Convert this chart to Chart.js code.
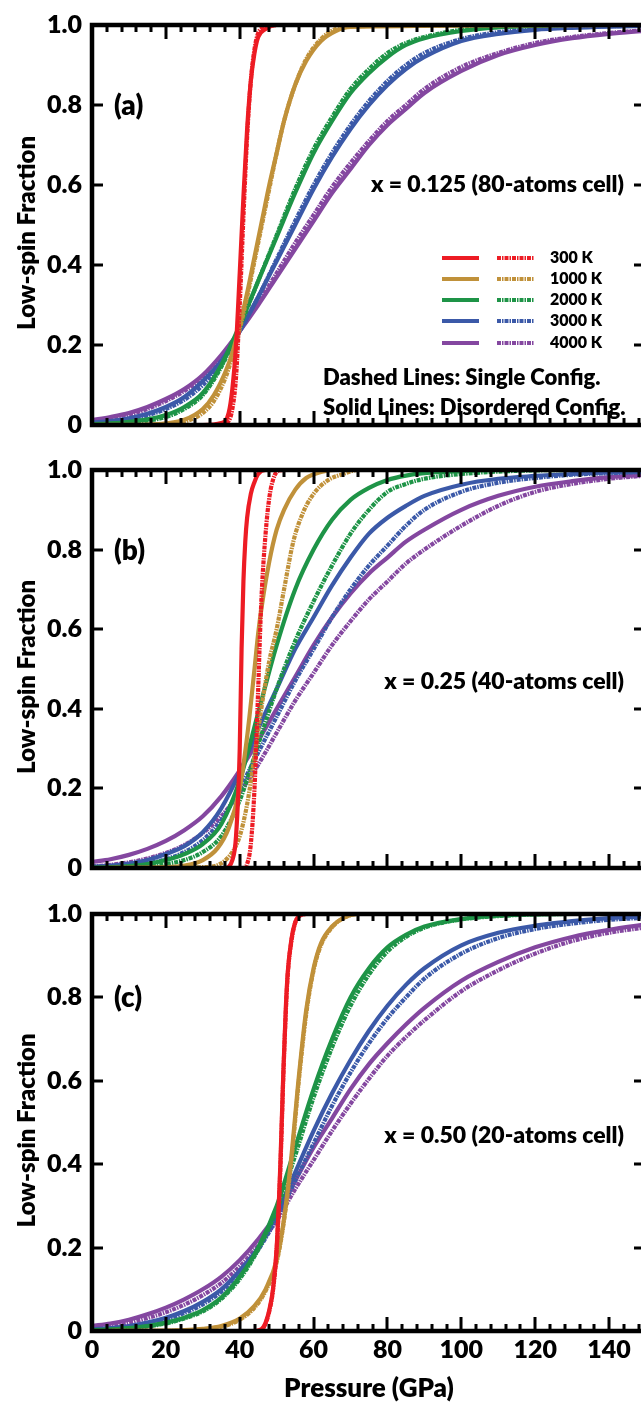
<!DOCTYPE html>
<html><head><meta charset="utf-8">
<script src="https://cdn.jsdelivr.net/npm/chart.js@4.4.1/dist/chart.umd.min.js"></script>
<style>
html,body{margin:0;padding:0;background:#fff;overflow:hidden;width:641px;height:1406px;position:relative;}
.panel{position:absolute;left:0;width:660px;}
canvas{display:block;}
</style></head><body>
<div class="panel" style="top:0px;height:450px"><canvas id="ca" width="660" height="450"></canvas></div>
<div class="panel" style="top:445px;height:448px"><canvas id="cb" width="660" height="448"></canvas></div>
<div class="panel" style="top:889px;height:517px"><canvas id="cc" width="660" height="517"></canvas></div>
<script>
// ---------- DATA ----------
const TEMPS = ['300 K', '1000 K', '2000 K', '3000 K', '4000 K'];
const X_TICKS = [0, 20, 40, 60, 80, 100, 120, 140];
const X_TICK_LABELS = ['0', '20', '40', '60', '80', '100', '120', '140'];
const Y_TICKS = [0, 0.2, 0.4, 0.6, 0.8, 1.0];
const Y_TICK_LABELS = ['0', '0.2', '0.4', '0.6', '0.8', '1.0'];
const PANEL_TAGS = ['(a)', '(b)', '(c)'];
const PANEL_NOTES = ['x = 0.125 (80-atoms cell)', 'x = 0.25 (40-atoms cell)', 'x = 0.50 (20-atoms cell)'];
const NOTE_LINES = ['Dashed Lines: Single Config.', 'Solid Lines: Disordered Config.'];
const X_TITLE = 'Pressure (GPa)';
const Y_TITLE = 'Low-spin Fraction';

// common pressure grid (GPa) for the broad curves
const P_GRID = [0,5,10,15,20,25,30,35,40,45,50,55,60,65,70,75,80,85,90,100,110,120,130,140,150];

// ---- panel (a) x = 0.125 ----
const A_P_300 = [0,30,35,37,38,39,40,41,42,43,44,45,47,50,150];
const A_300_DIS = [0,0,0.005,0.03,0.09,0.2,0.38,0.57,0.74,0.86,0.93,0.97,0.99,1,1];
const A_300_SGL = [0,0,0,0.01,0.04,0.12,0.3,0.52,0.72,0.86,0.94,0.98,0.995,1,1];
const A_P_1000 = [0,15,20,25,30,33,36,38,40,42,44,46,48,50,52,55,58,62,66,70,150];
const A_1000_DIS = [0,0.001,0.004,0.013,0.04,0.075,0.13,0.18,0.25,0.33,0.42,0.51,0.6,0.68,0.76,0.85,0.91,0.96,0.985,0.995,1];
const A_1000_SGL = [0,0,0.002,0.008,0.03,0.06,0.115,0.17,0.24,0.32,0.41,0.5,0.59,0.68,0.76,0.85,0.915,0.965,0.99,0.997,1];
const A_2000_DIS = [0.002,0.004,0.008,0.014,0.025,0.045,0.08,0.15,0.25,0.36,0.47,0.58,0.68,0.76,0.83,0.88,0.92,0.95,0.967,0.985,0.994,0.998,1,1,1];
const A_2000_SGL = [0.001,0.003,0.006,0.011,0.02,0.04,0.075,0.145,0.245,0.36,0.475,0.59,0.69,0.77,0.84,0.89,0.93,0.955,0.97,0.988,0.995,0.998,1,1,1];
const A_3000_DIS = [0.006,0.01,0.017,0.028,0.045,0.07,0.11,0.16,0.235,0.32,0.41,0.5,0.59,0.67,0.74,0.8,0.85,0.89,0.92,0.96,0.978,0.988,0.993,0.996,0.998];
const A_3000_SGL = [0.004,0.008,0.014,0.024,0.04,0.063,0.1,0.155,0.235,0.32,0.415,0.51,0.6,0.68,0.75,0.81,0.86,0.9,0.93,0.965,0.982,0.99,0.995,0.997,0.998];
const A_4000_DIS = [0.012,0.02,0.03,0.045,0.065,0.09,0.125,0.175,0.235,0.3,0.37,0.44,0.51,0.58,0.64,0.7,0.75,0.79,0.83,0.885,0.925,0.95,0.967,0.978,0.986];
const A_4000_SGL = [0.01,0.017,0.026,0.04,0.06,0.085,0.12,0.17,0.235,0.305,0.38,0.455,0.525,0.595,0.655,0.71,0.76,0.8,0.84,0.895,0.93,0.955,0.97,0.98,0.987];

// ---- panel (b) x = 0.25 ----
const B_P_300_DIS = [0,36,38,39,40,40.5,41,41.5,42,43,44,45,47,150];
const B_300_DIS = [0,0,0.02,0.08,0.3,0.55,0.72,0.82,0.88,0.94,0.97,0.99,1,1];
const B_P_300_SGL = [0,41,42,43,44,45,45.5,46,47,48,49,50,52,150];
const B_300_SGL = [0,0,0.01,0.06,0.2,0.45,0.59,0.7,0.84,0.93,0.975,0.995,1,1];
const B_P_1000_DIS = [0,20,25,30,34,37,40,42,44,45,46,48,50,52,55,58,62,66,150];
const B_1000_DIS = [0,0.002,0.006,0.02,0.05,0.1,0.2,0.33,0.5,0.59,0.66,0.77,0.85,0.9,0.95,0.98,0.995,1,1];
const B_P_1000_SGL = [0,30,35,38,40,42,44,46,48,50,52,54.5,57,60,64,68,72,150];
const B_1000_SGL = [0,0.002,0.012,0.04,0.08,0.16,0.28,0.41,0.52,0.6,0.7,0.82,0.89,0.94,0.975,0.99,1,1];
const B_2000_DIS = [0.001,0.002,0.005,0.01,0.02,0.035,0.06,0.11,0.22,0.39,0.56,0.7,0.8,0.875,0.925,0.955,0.975,0.986,0.992,0.997,1,1,1,1,1];
const B_2000_SGL = [0,0.001,0.002,0.005,0.01,0.02,0.04,0.08,0.17,0.31,0.45,0.57,0.67,0.76,0.84,0.9,0.945,0.965,0.978,0.99,0.996,0.999,1,1,1];
const B_3000_DIS = [0.003,0.006,0.011,0.02,0.035,0.055,0.09,0.15,0.24,0.35,0.45,0.55,0.63,0.71,0.78,0.84,0.88,0.91,0.935,0.963,0.978,0.985,0.99,0.994,0.996];
const B_3000_SGL = [0.001,0.003,0.006,0.012,0.022,0.04,0.07,0.12,0.2,0.29,0.38,0.47,0.55,0.63,0.7,0.76,0.81,0.86,0.9,0.945,0.968,0.98,0.988,0.992,0.995];
const B_4000_DIS = [0.015,0.022,0.033,0.048,0.068,0.095,0.13,0.18,0.245,0.32,0.4,0.48,0.56,0.63,0.69,0.74,0.78,0.82,0.85,0.9,0.935,0.958,0.972,0.982,0.988];
const B_4000_SGL = [0.004,0.008,0.014,0.024,0.038,0.058,0.088,0.13,0.19,0.26,0.34,0.42,0.49,0.56,0.62,0.675,0.72,0.765,0.8,0.86,0.91,0.945,0.965,0.978,0.986];

// ---- panel (c) x = 0.50 ----
const C_P_300 = [0,44,46,47,48,49,50,51,51.8,52.5,53,54,55,56,58,150];
const C_300_DIS = [0,0,0.005,0.02,0.05,0.1,0.2,0.4,0.62,0.78,0.86,0.94,0.98,0.995,1,1];
const C_300_SGL = [0,0,0.004,0.018,0.047,0.097,0.195,0.39,0.61,0.77,0.855,0.935,0.978,0.994,1,1];
const C_P_1000 = [0,25,30,35,40,44,47,50,52,54,56,58,60,62,65,68,72,150];
const C_1000_DIS = [0,0.002,0.005,0.012,0.03,0.06,0.1,0.17,0.27,0.42,0.61,0.77,0.87,0.93,0.97,0.99,1,1];
const C_1000_SGL = [0,0.001,0.004,0.01,0.027,0.056,0.096,0.165,0.265,0.41,0.6,0.76,0.865,0.925,0.968,0.99,1,1];
const C_2000_DIS = [0.002,0.004,0.007,0.012,0.02,0.032,0.05,0.08,0.13,0.2,0.3,0.44,0.58,0.7,0.8,0.87,0.92,0.95,0.97,0.988,0.996,0.999,1,1,1];
const C_2000_SGL = [0.001,0.003,0.006,0.011,0.018,0.03,0.047,0.077,0.125,0.195,0.29,0.42,0.56,0.68,0.78,0.855,0.91,0.945,0.967,0.987,0.995,0.999,1,1,1];
const C_3000_DIS = [0.004,0.007,0.012,0.02,0.032,0.048,0.07,0.1,0.145,0.2,0.28,0.38,0.48,0.57,0.65,0.72,0.78,0.83,0.87,0.925,0.955,0.972,0.983,0.99,0.994];
const C_3000_SGL = [0.003,0.006,0.01,0.017,0.028,0.043,0.064,0.094,0.138,0.195,0.27,0.36,0.45,0.54,0.62,0.69,0.75,0.8,0.845,0.905,0.942,0.964,0.977,0.986,0.991];
const C_4000_DIS = [0.012,0.018,0.027,0.04,0.056,0.076,0.1,0.13,0.17,0.22,0.28,0.36,0.44,0.51,0.58,0.64,0.69,0.735,0.775,0.84,0.885,0.92,0.945,0.962,0.975];
const C_4000_SGL = [0.008,0.013,0.02,0.031,0.045,0.063,0.086,0.115,0.155,0.205,0.265,0.34,0.41,0.48,0.545,0.605,0.66,0.705,0.745,0.815,0.865,0.905,0.935,0.955,0.968];

// ---------- STYLE ----------
const COLORS = ['#ED1C24', '#C0913A', '#1E9447', '#3B59A8', '#8447A0'];
const FONT = 'Lato, "Open Sans", sans-serif';
const W = '800';
const DASH = [4, 1, 1.5, 1];
const LW = 4.2;

function pts(xs, ys) { return xs.map((x, i) => ({x: x, y: ys[i]})); }

function makeSets(curves) {
  const sets = [];
  curves.forEach((c, i) => {
    sets.push({label: TEMPS[i] + ' disordered', data: pts(c[0], c[1]), borderColor: COLORS[i],
      borderWidth: LW, pointRadius: 0, fill: false, cubicInterpolationMode: 'monotone', order: i * 2 + 1});
    sets.push({label: TEMPS[i] + ' single', data: pts(c[2], c[3]), borderColor: COLORS[i],
      borderWidth: LW, borderDash: DASH, pointRadius: 0, fill: false, cubicInterpolationMode: 'monotone', order: i * 2});
  });
  return sets;
}

const framePlugin = {
  id: 'frame',
  afterDatasetsDraw(chart, args, opts) {
    const ctx = chart.ctx, a = chart.chartArea, xs = chart.scales.x, ys = chart.scales.y;
    ctx.save();
    ctx.strokeStyle = '#000';
    ctx.lineCap = 'butt';
    ctx.lineWidth = 3;
    for (let v = 0; v <= xs.max; v += 4) {
      const px = Math.round(xs.getPixelForValue(v));
      const len = (v % 20 === 0) ? 14 : 7;
      ctx.beginPath();
      ctx.moveTo(px, a.bottom); ctx.lineTo(px, a.bottom - len);
      ctx.moveTo(px, a.top); ctx.lineTo(px, a.top + len);
      ctx.stroke();
    }
    Y_TICKS.forEach(v => {
      const py = Math.round(ys.getPixelForValue(v));
      ctx.beginPath();
      ctx.moveTo(a.left, py); ctx.lineTo(a.left + 11, py);
      ctx.moveTo(a.right, py); ctx.lineTo(a.right - 12, py);
      ctx.stroke();
    });
    ctx.lineWidth = 4.5;
    ctx.strokeRect(a.left, a.top, a.right - a.left, a.bottom - a.top);

    ctx.fillStyle = '#000';
    ctx.textBaseline = 'middle';
    ctx.font = W + ' 28px ' + FONT;
    ctx.textAlign = 'left';
    ctx.fillText(opts.tag, a.left + 22, ys.getPixelForValue(0.8) + 1);
    ctx.font = W + ' 23px ' + FONT;
    ctx.textAlign = 'right';
    ctx.fillText(opts.note, a.right - 22, ys.getPixelForValue(opts.noteY));

    ctx.save();
    ctx.translate(27, (a.top + a.bottom) / 2 + 8);
    ctx.rotate(-Math.PI / 2);
    ctx.textAlign = 'center';
    ctx.font = W + ' 24px ' + FONT;
    ctx.fillText(Y_TITLE, 0, 0);
    ctx.restore();

    if (opts.legend) {
      const rows = [258, 279, 300, 321, 343];
      rows.forEach((ry, i) => {
        ctx.strokeStyle = COLORS[i];
        ctx.lineWidth = LW;
        ctx.setLineDash([]);
        ctx.beginPath(); ctx.moveTo(442, ry); ctx.lineTo(479, ry); ctx.stroke();
        ctx.setLineDash(DASH);
        ctx.beginPath(); ctx.moveTo(497, ry); ctx.lineTo(534, ry); ctx.stroke();
        ctx.setLineDash([]);
        ctx.fillStyle = '#000';
        ctx.textAlign = 'left';
        ctx.font = W + ' 16px ' + FONT;
        ctx.fillText(TEMPS[i], 550, ry);
      });
      ctx.font = W + ' 22px ' + FONT;
      ctx.fillText(NOTE_LINES[0], 323, 378);
      ctx.fillText(NOTE_LINES[1], 323, 408);
    }
    if (opts.xTitle) {
      ctx.textAlign = 'center';
      ctx.font = W + ' 26px ' + FONT;
      ctx.fillText(X_TITLE, (a.left + a.right) / 2, a.bottom + 58);
    }
    ctx.restore();
  }
};

function makeChart(id, curves, xHeight, showXLabels, opts) {
  new Chart(document.getElementById(id), {
    type: 'line',
    data: {datasets: makeSets(curves)},
    plugins: [framePlugin],
    options: {
      responsive: false, animation: false, events: [],
      layout: {padding: {top: 21, right: 14, left: 0, bottom: 0}},
      plugins: {legend: {display: false}, tooltip: {enabled: false}, frame: opts},
      scales: {
        x: {
          type: 'linear', min: 0, max: 150,
          grid: {display: false, drawTicks: false, tickLength: 0}, border: {display: false},
          afterBuildTicks: s => { s.ticks = X_TICKS.map(v => ({value: v})); },
          afterFit: s => { s.height = xHeight; },
          ticks: {display: showXLabels, includeBounds: false, padding: 4, color: '#000',
            font: {family: FONT, size: 25, weight: W},
            callback: (v) => X_TICK_LABELS[X_TICKS.indexOf(v)], maxRotation: 0, autoSkip: false}
        },
        y: {
          type: 'linear', min: 0, max: 1,
          grid: {display: false, drawTicks: false, tickLength: 0}, border: {display: false},
          afterBuildTicks: s => { s.ticks = Y_TICKS.map(v => ({value: v})); },
          afterFit: s => { s.width = 92; },
          ticks: {padding: 10, color: '#000', font: {family: FONT, size: 25, weight: W},
            callback: (v) => Y_TICK_LABELS[Y_TICKS.indexOf(v)]}
        }
      }
    }
  });
}

makeChart('ca', [
  [A_P_300, A_300_DIS, A_P_300, A_300_SGL],
  [A_P_1000, A_1000_DIS, A_P_1000, A_1000_SGL],
  [P_GRID, A_2000_DIS, P_GRID, A_2000_SGL],
  [P_GRID, A_3000_DIS, P_GRID, A_3000_SGL],
  [P_GRID, A_4000_DIS, P_GRID, A_4000_SGL]
], 6, false, {tag: PANEL_TAGS[0], note: PANEL_NOTES[0], noteY: 0.6, legend: true});

makeChart('cb', [
  [B_P_300_DIS, B_300_DIS, B_P_300_SGL, B_300_SGL],
  [B_P_1000_DIS, B_1000_DIS, B_P_1000_SGL, B_1000_SGL],
  [P_GRID, B_2000_DIS, P_GRID, B_2000_SGL],
  [P_GRID, B_3000_DIS, P_GRID, B_3000_SGL],
  [P_GRID, B_4000_DIS, P_GRID, B_4000_SGL]
], 6, false, {tag: PANEL_TAGS[1], note: PANEL_NOTES[1], noteY: 0.468});

makeChart('cc', [
  [C_P_300, C_300_DIS, C_P_300, C_300_SGL],
  [C_P_1000, C_1000_DIS, C_P_1000, C_1000_SGL],
  [P_GRID, C_2000_DIS, P_GRID, C_2000_SGL],
  [P_GRID, C_3000_DIS, P_GRID, C_3000_SGL],
  [P_GRID, C_4000_DIS, P_GRID, C_4000_SGL]
], 75, true, {tag: PANEL_TAGS[2], note: PANEL_NOTES[2], noteY: 0.468, xTitle: true});
</script>
</body></html>
